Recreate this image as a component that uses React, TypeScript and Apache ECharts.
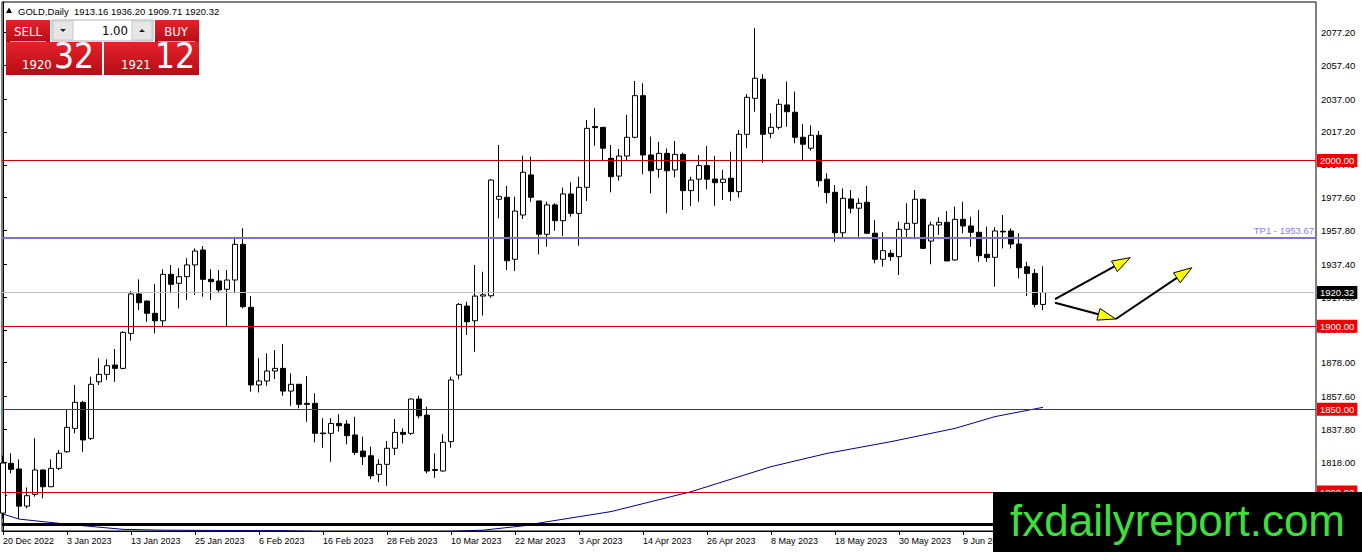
import React, { useEffect, useRef } from "react";
import * as echarts from "echarts";

// ---- Data ----
const tickIdx = [0, 8, 16, 24, 32, 40, 48, 56, 64, 72, 80, 88, 96, 104, 112, 120];
const tickLabels = [
  "20 Dec 2022", "3 Jan 2023", "13 Jan 2023", "25 Jan 2023", "6 Feb 2023", "16 Feb 2023",
  "28 Feb 2023", "10 Mar 2023", "22 Mar 2023", "3 Apr 2023", "14 Apr 2023", "26 Apr 2023",
  "8 May 2023", "18 May 2023", "30 May 2023", "9 Jun 2023",
];
const priceTicks = [2077.2, 2057.4, 2037.0, 2017.2, 1997.4, 1977.6, 1957.8, 1937.4, 1917.6, 1897.8, 1878.0, 1857.6, 1837.8, 1818.0, 1798.2];

const opens = [
  1787.3, 1817.3, 1813.9, 1791.5, 1798.6, 1813.3, 1803.2, 1814.3, 1824.3, 1838.4,
  1854.1, 1832.4, 1866.5, 1871.0, 1876.6, 1874.6, 1895.7, 1919.5, 1915.2, 1907.8,
  1903.3, 1931.3, 1925.9, 1929.9, 1937.0, 1946.0, 1928.3, 1927.3, 1922.3, 1927.9,
  1949.4, 1911.4, 1864.6, 1867.0, 1873.0, 1874.6, 1860.9, 1865.0, 1853.5, 1853.5,
  1835.6, 1835.4, 1841.4, 1841.0, 1834.4, 1824.7, 1821.9, 1810.7, 1816.7, 1826.4,
  1836.0, 1835.4, 1856.1, 1846.4, 1813.0, 1812.7, 1830.4, 1870.6, 1912.2, 1903.3,
  1918.2, 1918.4, 1976.6, 1977.8, 1940.4, 1967.1, 1991.3, 1975.6, 1955.5, 1973.2,
  1963.7, 1979.8, 1968.1, 1983.8, 2020.5, 2020.0, 2001.3, 1990.6, 2002.7, 2014.0,
  2039.1, 2003.3, 1994.7, 2004.3, 1994.3, 2003.7, 1981.8, 1988.7, 1996.9, 1988.8,
  1986.8, 1989.3, 1981.2, 2015.8, 2037.5, 2049.0, 2016.4, 2020.0, 2033.5, 2029.1,
  2014.0, 2007.4, 2015.2, 1988.7, 1980.8, 1956.4, 1976.8, 1971.2, 1974.8, 1956.1,
  1940.4, 1944.0, 1942.0, 1958.5, 1962.1, 1976.6, 1951.4, 1961.1, 1962.7, 1940.0,
  1964.5, 1960.5, 1956.7, 1943.4, 1941.6, 1957.3, 1957.5, 1949.6, 1935.9, 1931.9,
  1913.16,
];
const highs = [
  1822.0, 1823.4, 1819.7, 1802.8, 1832.4, 1813.7, 1819.7, 1825.4, 1849.5, 1864.6,
  1855.0, 1869.6, 1880.7, 1880.1, 1886.3, 1897.0, 1921.3, 1928.3, 1915.5, 1925.5,
  1934.4, 1937.0, 1935.0, 1941.0, 1947.0, 1948.4, 1934.4, 1933.9, 1933.9, 1954.0,
  1959.1, 1918.2, 1880.7, 1883.7, 1885.7, 1889.3, 1871.6, 1865.0, 1870.0, 1859.5,
  1844.5, 1844.5, 1846.9, 1843.4, 1845.4, 1833.4, 1827.3, 1819.7, 1830.8, 1844.0,
  1838.4, 1856.5, 1858.1, 1851.5, 1823.3, 1834.8, 1869.6, 1914.0, 1914.8, 1937.0,
  1932.9, 1988.8, 2009.4, 1984.6, 1978.2, 2002.9, 2002.3, 1975.6, 1975.1, 1974.2,
  1983.6, 1986.8, 1990.2, 2024.4, 2031.5, 2020.0, 2009.4, 2006.9, 2027.5, 2048.0,
  2046.6, 2014.4, 2011.3, 2007.3, 2011.8, 2004.7, 1990.2, 2003.3, 2008.7, 2002.7,
  1994.3, 2005.3, 2018.4, 2040.1, 2079.8, 2052.0, 2028.5, 2037.1, 2047.6, 2041.5,
  2022.0, 2021.2, 2017.8, 1992.3, 1985.2, 1983.2, 1982.2, 1977.2, 1984.6, 1964.1,
  1956.7, 1946.0, 1963.1, 1974.2, 1982.2, 1977.0, 1963.1, 1965.7, 1969.5, 1972.1,
  1975.1, 1966.1, 1970.1, 1960.1, 1959.7, 1967.1, 1959.1, 1956.1, 1938.9, 1934.5,
  1936.2,
];
const lows = [
  1784.0, 1811.3, 1784.1, 1790.2, 1797.2, 1796.2, 1803.0, 1813.3, 1823.7, 1835.4,
  1824.3, 1831.4, 1864.6, 1867.6, 1866.5, 1874.0, 1891.3, 1909.8, 1902.7, 1895.7,
  1900.2, 1919.9, 1910.8, 1915.8, 1918.9, 1917.8, 1915.8, 1919.9, 1899.7, 1919.9,
  1910.8, 1860.5, 1860.1, 1864.1, 1868.2, 1858.1, 1852.1, 1850.5, 1842.4, 1830.0,
  1826.7, 1818.3, 1836.4, 1828.8, 1822.3, 1816.3, 1807.8, 1805.9, 1803.8, 1822.3,
  1829.4, 1834.5, 1844.5, 1811.3, 1808.6, 1812.3, 1826.7, 1868.0, 1894.7, 1884.6,
  1906.4, 1917.2, 1965.1, 1933.9, 1933.3, 1964.7, 1975.1, 1943.4, 1948.0, 1957.6,
  1954.4, 1966.1, 1948.6, 1975.6, 2008.9, 1999.7, 1980.8, 1987.8, 1999.9, 2013.4,
  1991.7, 1980.2, 1989.6, 1968.2, 1989.9, 1970.1, 1972.5, 1975.1, 1982.6, 1972.7,
  1976.2, 1975.6, 1977.6, 2007.4, 2029.4, 1998.7, 2013.4, 2018.8, 2020.4, 2010.4,
  1999.7, 2005.9, 1984.2, 1974.2, 1951.0, 1953.1, 1968.1, 1954.0, 1955.7, 1938.0,
  1935.9, 1939.5, 1930.9, 1953.1, 1952.5, 1946.6, 1937.4, 1955.1, 1939.4, 1939.5,
  1956.1, 1948.0, 1938.9, 1938.9, 1923.9, 1947.0, 1947.0, 1928.9, 1918.2, 1911.4,
  1909.71,
];
const closes = [
  1817.5, 1813.7, 1791.5, 1797.8, 1813.3, 1803.2, 1814.3, 1823.4, 1839.0, 1854.1,
  1831.4, 1865.0, 1871.0, 1876.2, 1874.6, 1896.3, 1919.5, 1914.2, 1907.8, 1903.3,
  1931.3, 1925.3, 1929.9, 1937.0, 1945.4, 1928.3, 1926.9, 1921.9, 1927.9, 1949.4,
  1911.8, 1864.6, 1867.0, 1873.0, 1874.6, 1860.9, 1865.0, 1852.9, 1852.9, 1835.4,
  1835.2, 1841.4, 1840.0, 1834.0, 1823.9, 1821.3, 1809.8, 1816.7, 1826.4, 1836.0,
  1834.8, 1856.1, 1846.0, 1812.7, 1813.6, 1830.0, 1867.6, 1913.2, 1902.7, 1918.2,
  1919.0, 1988.2, 1978.4, 1939.5, 1969.5, 1992.9, 1977.8, 1955.5, 1973.2, 1963.7,
  1979.8, 1968.1, 1983.8, 2019.4, 2019.8, 2007.4, 1990.2, 2002.7, 2014.0, 2039.1,
  2003.3, 1993.8, 2004.3, 1993.8, 2003.7, 1981.8, 1988.2, 1996.9, 1988.7, 1986.6,
  1988.7, 1981.2, 2015.8, 2038.1, 2049.6, 2015.8, 2020.0, 2033.9, 2029.4, 2014.0,
  2009.8, 2015.2, 1987.8, 1980.6, 1956.4, 1977.2, 1971.2, 1974.2, 1956.1, 1940.4,
  1945.6, 1942.0, 1958.5, 1962.1, 1976.6, 1947.0, 1961.1, 1962.7, 1939.4, 1964.5,
  1960.5, 1956.7, 1942.6, 1941.4, 1957.5, 1956.9, 1949.6, 1935.3, 1931.9, 1913.2,
  1920.32,
];

// moving average, read at selected bars
const maIdx = [0, 2, 7, 10, 15, 20, 28, 35, 42, 50, 56, 60, 65, 67, 76, 86, 96, 103, 111, 119, 124, 130];
const maVals = [1786.7, 1783.7, 1781.1, 1779.7, 1777.5, 1777.0, 1776.8, 1776.7, 1775.9, 1775.8, 1776.3, 1777.0, 1779.6, 1781.3, 1788.2, 1800.2, 1815.3, 1823.3, 1830.4, 1838.4, 1845.5, 1851.1];

const redLevels = [2000, 1900, 1850, 1800];
const tp1Level = 1953.67;
const lastPrice = 1920.32;
const baseLevel = 1780.4;

// hand-drawn arrows (bar index, price)
const arrowX1 = [131.5, 131.5, 139.1];
const arrowY1 = [1916.3, 1914.2, 1904.4];
const arrowX2 = [140.9, 139.1, 148.6];
const arrowY2 = [1941.4, 1904.4, 1935.3];

const FONT = '"Liberation Sans", Arial, sans-serif';
const NARROW = '"Liberation Sans Narrow", "DejaVu Sans Condensed", "Liberation Sans", sans-serif';

export default function App() {
  const ref = useRef<HTMLDivElement>(null);

  useEffect(() => {
    if (!ref.current) return;
    const chart = echarts.init(ref.current, null, { renderer: "svg" });

    const candleData = opens.map((o, i) => [i, o, closes[i], lows[i], highs[i]]);
    const maData = maIdx.map((x, k) => [x, maVals[k]]);
    const arrowData = arrowX1.map((x, k) => [x, arrowY1[k], arrowX2[k], arrowY2[k]]);

    const redGrad = () =>
      new echarts.graphic.LinearGradient(0, 0, 0, 1, [
        { offset: 0, color: "#e5222b" },
        { offset: 1, color: "#b70c15" },
      ]);

    const markLineData: any[] = [
      ...redLevels.map((v) => ({
        yAxis: v,
        lineStyle: { color: "#cc0000", width: 1, type: "solid" },
        label: {
          show: true,
          position: "end",
          distance: 1,
          formatter: v.toFixed(2),
          color: "#fff",
          backgroundColor: "#f00000",
          padding: [2, 3, 1, 3],
          fontSize: 9.5,
          fontFamily: FONT,
        },
      })),
      {
        yAxis: tp1Level,
        lineStyle: { color: "#7b6fe6", width: 2, type: "solid" },
        label: {
          show: true,
          position: "insideEndTop",
          distance: 2,
          formatter: "TP1 - " + tp1Level.toFixed(2),
          color: "#8a80e6",
          fontSize: 9.5,
          fontFamily: FONT,
        },
      },
      {
        yAxis: lastPrice,
        lineStyle: { color: "#c0c0c0", width: 1, type: "solid" },
        label: {
          show: true,
          position: "end",
          distance: 1,
          formatter: lastPrice.toFixed(2),
          color: "#fff",
          backgroundColor: "#000",
          padding: [2, 3, 1, 3],
          fontSize: 9.5,
          fontFamily: FONT,
        },
      },
      {
        yAxis: baseLevel,
        lineStyle: { color: "#000", width: 3, type: "solid" },
        label: { show: false },
      },
    ];

    const Z = 100;
    const graphic: any[] = [
      // header
      { type: "polygon", z: Z, shape: { points: [[6, 13], [12, 13], [9, 7.5]] }, style: { fill: "#000" } },
      {
        type: "text", z: Z, x: 18, y: 11,
        style: { text: "GOLD,Daily  1913.16 1936.20 1909.71 1920.32", fontSize: 9.5, fontFamily: FONT, fill: "#000", verticalAlign: "middle", align: "left" },
      },
      // SELL tab
      { type: "rect", z: Z, shape: { x: 6, y: 20, width: 44, height: 22 }, style: { fill: redGrad() } },
      { type: "line", z: Z + 1, shape: { x1: 10, y1: 41.5, x2: 46, y2: 41.5 }, style: { stroke: "rgba(255,200,200,0.8)", lineWidth: 1 } },
      { type: "text", z: Z + 1, x: 28, y: 31, style: { text: "SELL", fontSize: 13, fontFamily: NARROW, fill: "#fff", align: "center", verticalAlign: "middle" } },
      // lot spinner
      { type: "rect", z: Z, shape: { x: 52, y: 20, width: 101, height: 21 }, style: { fill: "#fff", stroke: "#b0b0b0", lineWidth: 1 } },
      { type: "rect", z: Z + 1, shape: { x: 53, y: 21, width: 20, height: 19 }, style: { fill: "#e6e6e6", stroke: "#c8c8c8", lineWidth: 1 } },
      { type: "polygon", z: Z + 2, shape: { points: [[60, 29], [66, 29], [63, 32]] }, style: { fill: "#222" } },
      { type: "rect", z: Z + 1, shape: { x: 132, y: 21, width: 20, height: 19 }, style: { fill: "#e6e6e6", stroke: "#c8c8c8", lineWidth: 1 } },
      { type: "polygon", z: Z + 2, shape: { points: [[139, 32], [145, 32], [142, 29]] }, style: { fill: "#222" } },
      { type: "text", z: Z + 2, x: 128, y: 30.5, style: { text: "1.00", fontSize: 13, fontFamily: NARROW, fill: "#000", align: "right", verticalAlign: "middle" } },
      // BUY tab
      { type: "rect", z: Z, shape: { x: 155, y: 20, width: 44, height: 22 }, style: { fill: redGrad() } },
      { type: "line", z: Z + 1, shape: { x1: 158, y1: 41.5, x2: 195, y2: 41.5 }, style: { stroke: "rgba(255,200,200,0.8)", lineWidth: 1 } },
      { type: "text", z: Z + 1, x: 176, y: 31, style: { text: "BUY", fontSize: 13, fontFamily: NARROW, fill: "#fff", align: "center", verticalAlign: "middle" } },
      // price boxes
      { type: "rect", z: Z, shape: { x: 6, y: 42, width: 96, height: 33 }, style: { fill: redGrad() } },
      { type: "text", z: Z + 1, x: 22, y: 64, style: { text: "1920", fontSize: 13, fontFamily: NARROW, fill: "#fff", align: "left", verticalAlign: "middle" } },
      { type: "text", z: Z + 1, x: 54, y: 56, style: { text: "32", fontSize: 35, fontFamily: NARROW, fill: "#fff", align: "left", verticalAlign: "middle" } },
      { type: "rect", z: Z, shape: { x: 104, y: 42, width: 95, height: 33 }, style: { fill: redGrad() } },
      { type: "text", z: Z + 1, x: 121, y: 64, style: { text: "1921", fontSize: 13, fontFamily: NARROW, fill: "#fff", align: "left", verticalAlign: "middle" } },
      { type: "text", z: Z + 1, x: 155, y: 56, style: { text: "12", fontSize: 35, fontFamily: NARROW, fill: "#fff", align: "left", verticalAlign: "middle" } },
      // watermark
      { type: "rect", z: Z, shape: { x: 993, y: 492, width: 369, height: 60 }, style: { fill: "#000" } },
      { type: "text", z: Z + 1, x: 1010, y: 520, style: { text: "fxdailyreport.com", fontSize: 44, fontFamily: FONT, fill: "#3de03a", align: "left", verticalAlign: "middle" } },
    ];

    chart.setOption({
      animation: false,
      backgroundColor: "#fff",
      textStyle: { fontFamily: FONT },
      grid: {
        left: 2, top: 2, width: 1314, height: 529,
        show: true, borderColor: "#000", borderWidth: 1, backgroundColor: "#fff",
        containLabel: false, outerBoundsMode: "none",
      },
      xAxis: {
        type: "value",
        min: -0.125,
        max: 164.125,
        position: "bottom",
        axisLine: { show: true, lineStyle: { color: "#000", width: 1 } },
        axisTick: { show: true, customValues: tickIdx, length: 4, inside: false, lineStyle: { color: "#000" } },
        axisLabel: {
          show: true,
          customValues: tickIdx,
          formatter: (v: number) => {
            const k = tickIdx.indexOf(Math.round(v));
            return k >= 0 ? tickLabels[k] : "";
          },
          align: "left",
          margin: 5,
          fontSize: 9,
          color: "#000",
          fontFamily: FONT,
        },
        splitLine: { show: false },
      },
      yAxis: {
        type: "value",
        position: "right",
        min: 1776.5,
        max: 2095.6,
        axisLine: { show: true, lineStyle: { color: "#000", width: 1 } },
        axisTick: { show: true, customValues: priceTicks, length: 4, inside: false, lineStyle: { color: "#000" } },
        axisLabel: {
          show: true,
          customValues: priceTicks,
          formatter: (v: number) => v.toFixed(2),
          margin: 5,
          fontSize: 9.5,
          color: "#000",
          fontFamily: FONT,
        },
        splitLine: { show: false },
      },
      series: [
        {
          type: "line",
          name: "MA",
          data: maData,
          showSymbol: false,
          symbol: "none",
          clip: true,
          z: 1,
          lineStyle: { color: "#00008b", width: 1 },
          markLine: { silent: true, symbol: ["none", "none"], animation: false, data: markLineData },
        },
        {
          type: "candlestick",
          name: "GOLD",
          data: candleData,
          barWidth: 5,
          clip: true,
          z: 3,
          itemStyle: {
            color: "#fff",
            color0: "#000",
            borderColor: "#000",
            borderColor0: "#000",
            borderColorDoji: "#000",
            borderWidth: 1,
          },
        },
        {
          type: "custom",
          name: "arrows",
          data: arrowData,
          dimensions: ["x1", "y1", "x2", "y2"],
          encode: { x: [0, 2], y: [1, 3] },
          z: 5,
          clip: false,
          renderItem: (params: any, api: any) => {
            const p1 = api.coord([api.value(0), api.value(1)]);
            const p2 = api.coord([api.value(2), api.value(3)]);
            const dx = p2[0] - p1[0];
            const dy = p2[1] - p1[1];
            const len = Math.hypot(dx, dy) || 1;
            const ux = dx / len;
            const uy = dy / len;
            const L = 18;
            const W = 6;
            const bx = p2[0] - ux * L;
            const by = p2[1] - uy * L;
            return {
              type: "group",
              children: [
                { type: "line", shape: { x1: p1[0], y1: p1[1], x2: bx, y2: by }, style: { stroke: "#000", lineWidth: 2 } },
                {
                  type: "polygon",
                  shape: { points: [[p2[0], p2[1]], [bx - uy * W, by + ux * W], [bx + uy * W, by - ux * W]] },
                  style: { fill: "#ffff00", stroke: "#000", lineWidth: 1 },
                },
              ],
            };
          },
        },
      ],
      graphic,
    });

    return () => chart.dispose();
  }, []);

  return (
    <div
      ref={ref}
      style={{ position: "fixed", left: 0, top: 0, width: 1362, height: 552, background: "#fff" }}
    />
  );
}
